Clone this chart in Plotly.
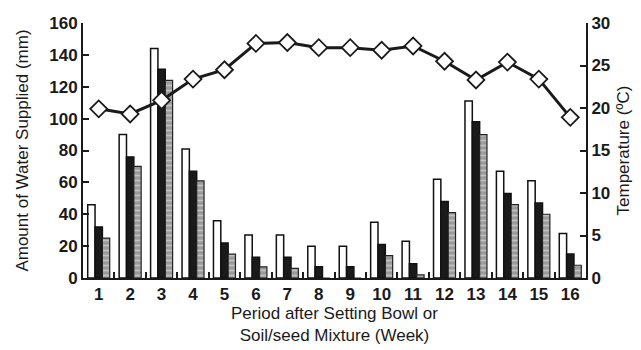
import plotly.graph_objects as go

weeks = [str(i) for i in range(1, 17)]
water_a = [46, 90, 144, 81, 36, 27, 27, 20, 20, 35, 23, 62, 111, 67, 61, 28]
water_b = [32, 76, 131, 67, 22, 13, 13, 7, 7, 21, 9, 48, 98, 53, 47, 15]
water_c = [25, 70, 124, 61, 15, 7, 6, 0, 0, 14, 2, 41, 90, 46, 40, 8]
temperature = [19.9, 19.3, 20.9, 23.4, 24.5, 27.6, 27.7, 27.1, 27.1, 26.8, 27.3, 25.5, 23.3, 25.4, 23.4, 18.9]

font_family = "Liberation Sans, Arial, sans-serif"
tick_font = dict(size=17, family=font_family, weight="bold", color="#1a1a1a")

fig = go.Figure()
fig.add_trace(go.Bar(x=weeks, y=water_a, marker=dict(color="white", line=dict(color="#111", width=1.5)), showlegend=False))
fig.add_trace(go.Bar(x=weeks, y=water_b, marker=dict(color="#1a1a1a", line=dict(color="#111", width=1.5)), showlegend=False))
fig.add_trace(go.Bar(x=weeks, y=water_c, marker=dict(color="#a8a8a8", line=dict(color="#222", width=1.2),
                                                      pattern=dict(shape="-", fgcolor="#e8e8e8", bgcolor="#9a9a9a", size=5, solidity=0.35)),
                     showlegend=False))
fig.add_trace(go.Scatter(x=weeks, y=temperature, yaxis="y2", mode="lines+markers",
                         line=dict(color="#1a1a1a", width=3),
                         marker=dict(symbol="diamond", size=13, color="white", line=dict(color="#1a1a1a", width=1.8)),
                         showlegend=False))

fig.update_layout(
    width=641, height=350,
    margin=dict(l=83, r=55, t=23, b=72),
    paper_bgcolor="white", plot_bgcolor="white",
    barmode="group", bargap=0.3, bargroupgap=0,
    font=dict(family=font_family, color="#1a1a1a"),
    xaxis=dict(type="category", range=[-0.5, 15.5], showline=True, linecolor="#1a1a1a", linewidth=2,
               ticks="inside", tickson="boundaries", ticklen=6, tickwidth=2, tickcolor="#1a1a1a",
               tickfont=tick_font, tickangle=0, layer="above traces", automargin=False,
               title=dict(text="Period after Setting Bowl or<br>Soil/seed Mixture (Week)", font=dict(size=17), standoff=4),
               showgrid=False),
    yaxis=dict(range=[0, 160], dtick=20, showline=True, linecolor="#1a1a1a", linewidth=2,
               ticks="inside", ticklen=6, tickwidth=2, tickcolor="#1a1a1a",
               tickfont=tick_font, automargin=False,
               title=dict(text="Amount of Water Supplied (mm)", font=dict(size=17), standoff=16),
               showgrid=False, zeroline=False),
    yaxis2=dict(range=[0, 30], dtick=5, overlaying="y", side="right", showline=True, linecolor="#1a1a1a", linewidth=2,
                ticks="inside", ticklen=6, tickwidth=2, tickcolor="#1a1a1a",
                tickfont=tick_font, automargin=False,
                title=dict(text="Temperature (ºC)", font=dict(size=17), standoff=8),
                showgrid=False, zeroline=False),
)

fig.write_html("out.html")
